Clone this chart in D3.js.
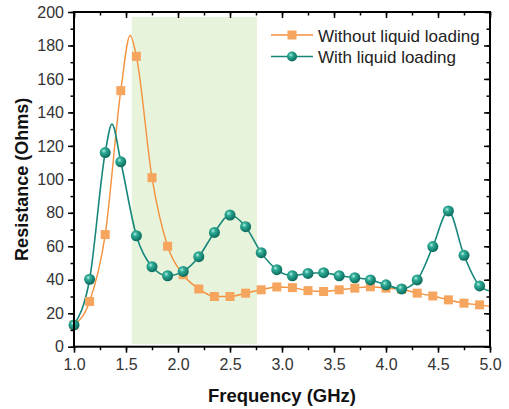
<!DOCTYPE html>
<html>
<head>
<meta charset="utf-8">
<script src="https://cdn.jsdelivr.net/npm/d3@7"></script>
<style>
  html, body { margin: 0; padding: 0; background: #fff; }
  svg { display: block; }
  text { font-family: "Liberation Sans", Arial, sans-serif; }
</style>
</head>
<body>
<svg id="chart" width="509" height="409"></svg>
<script>
// ---- Data ----
const markerFreq = [1.0, 1.15, 1.3, 1.45, 1.6, 1.75, 1.9, 2.05, 2.2, 2.35, 2.5, 2.65, 2.8, 2.95,
  3.1, 3.25, 3.4, 3.55, 3.7, 3.85, 4.0, 4.15, 4.3, 4.45, 4.6, 4.75, 4.9];
const withoutValues = [13, 27, 67, 153, 173.5, 101, 60, 43, 34.5, 30, 30, 32, 34, 35.7,
  35.3, 33.5, 33, 34, 35, 35.8, 35, 34.3, 32, 30.3, 28, 26, 25];
const withValues = [13, 40.3, 116, 110.5, 66.3, 47.8, 42.4, 45, 53.8, 68.3, 78.7, 71.7, 56.2, 46,
  42.4, 43.8, 44.2, 42.4, 41.2, 39.9, 37, 34.5, 39.9, 59.8, 81.1, 54.6, 36.3];
// extra points (peaks and end of range)
const withoutCurveExtraFreq = [1.54, 5.0];
const withoutCurveExtraValues = [186, 24];
const withCurveExtraFreq = [1.365, 5.0];
const withCurveExtraValues = [133, 33.3];
const shadedBand = [1.555, 2.76];
const xTicks = [1.0, 1.5, 2.0, 2.5, 3.0, 3.5, 4.0, 4.5, 5.0];
const yTicks = [0, 20, 40, 60, 80, 100, 120, 140, 160, 180, 200];
const seriesNames = ["Without liquid loading", "With liquid loading"];

// ---- Layout ----
const svg = d3.select("#chart");
const L = 74, R = 490, T = 12, B = 346.7;
const x = d3.scaleLinear().domain([1, 5]).range([L, R]);
const y = d3.scaleLinear().domain([0, 200]).range([B, T]);

const orangeLine = "#f4913e", orangeMark = "#f5a55e";
const tealLine = "#16877a";

const defs = svg.append("defs");
const grad = defs.append("radialGradient").attr("id", "ball")
  .attr("cx", "0.38").attr("cy", "0.35").attr("r", "0.65");
grad.append("stop").attr("offset", "0").attr("stop-color", "#bfeee4");
grad.append("stop").attr("offset", "0.3").attr("stop-color", "#2fae98");
grad.append("stop").attr("offset", "1").attr("stop-color", "#0b6a5c");

// shaded band
svg.append("rect")
  .attr("x", x(shadedBand[0])).attr("y", y(197))
  .attr("width", x(shadedBand[1]) - x(shadedBand[0]))
  .attr("height", y(1.5) - y(197))
  .attr("fill", "#e7f3da");

function curvePoints(fr, vals, exF, exV) {
  const pts = fr.map((f, i) => [f, vals[i]]).concat(exF.map((f, i) => [f, exV[i]]));
  return pts.sort((a, b) => a[0] - b[0]);
}
const line = d3.line().x(d => x(d[0])).y(d => y(d[1])).curve(d3.curveMonotoneX);

const withoutPts = curvePoints(markerFreq, withoutValues, withoutCurveExtraFreq, withoutCurveExtraValues);
const withPts = curvePoints(markerFreq, withValues, withCurveExtraFreq, withCurveExtraValues);

svg.append("path").datum(withoutPts).attr("d", line)
  .attr("fill", "none").attr("stroke", orangeLine).attr("stroke-width", 1.4);
svg.append("path").datum(withPts).attr("d", line)
  .attr("fill", "none").attr("stroke", tealLine).attr("stroke-width", 1.6);

const sq = 9;
svg.append("g").selectAll("rect").data(markerFreq.map((f, i) => [f, withoutValues[i]]))
  .join("rect")
  .attr("x", d => x(d[0]) - sq / 2).attr("y", d => y(d[1]) - sq / 2)
  .attr("width", sq).attr("height", sq).attr("fill", orangeMark);

svg.append("g").selectAll("circle").data(markerFreq.map((f, i) => [f, withValues[i]]))
  .join("circle")
  .attr("cx", d => x(d[0])).attr("cy", d => y(d[1])).attr("r", 5.5)
  .attr("fill", "url(#ball)");

// ---- Axes ----
const xMinor = d3.range(1, 5.001, 0.25);
const yMinor = d3.range(0, 200.001, 10);
const tickFont = 16;

function styleAxis(g) {
  g.select(".domain").remove();
  g.selectAll("line").attr("stroke", "#000").attr("stroke-width", 1.5);
  g.selectAll("text").attr("font-size", tickFont).attr("fill", "#333");
}

// bottom
svg.append("g").attr("transform", `translate(0,${B})`)
  .call(d3.axisBottom(x).tickValues(xMinor).tickSize(3.5).tickFormat(""))
  .call(styleAxis);
svg.append("g").attr("transform", `translate(0,${B})`)
  .call(d3.axisBottom(x).tickValues(xTicks).tickSize(6).tickPadding(6).tickFormat(d3.format(".1f")))
  .call(styleAxis);
// top (inward)
svg.append("g").attr("transform", `translate(0,${T})`)
  .call(d3.axisBottom(x).tickValues(xMinor).tickSize(3.5).tickFormat(""))
  .call(styleAxis);
svg.append("g").attr("transform", `translate(0,${T})`)
  .call(d3.axisBottom(x).tickValues(xTicks).tickSize(6).tickFormat(""))
  .call(styleAxis);
// left
svg.append("g").attr("transform", `translate(${L},0)`)
  .call(d3.axisLeft(y).tickValues(yMinor).tickSize(3.5).tickFormat(""))
  .call(styleAxis);
svg.append("g").attr("transform", `translate(${L},0)`)
  .call(d3.axisLeft(y).tickValues(yTicks).tickSize(6).tickPadding(4).tickFormat(d3.format("d")))
  .call(styleAxis);
// right (inward)
svg.append("g").attr("transform", `translate(${R},0)`)
  .call(d3.axisLeft(y).tickValues(yMinor).tickSize(3.5).tickFormat(""))
  .call(styleAxis);
svg.append("g").attr("transform", `translate(${R},0)`)
  .call(d3.axisLeft(y).tickValues(yTicks).tickSize(6).tickFormat(""))
  .call(styleAxis);

// frame
svg.append("rect").attr("x", L).attr("y", T).attr("width", R - L).attr("height", B - T)
  .attr("fill", "none").attr("stroke", "#000").attr("stroke-width", 2);

// titles
svg.append("text").attr("x", (L + R) / 2).attr("y", 402)
  .attr("text-anchor", "middle").attr("font-size", 18.5).attr("font-weight", "bold")
  .attr("fill", "#111").text("Frequency (GHz)");
svg.append("text").attr("transform", `translate(28,${(T + B) / 2}) rotate(-90)`)
  .attr("text-anchor", "middle").attr("font-size", 18).attr("font-weight", "bold")
  .attr("fill", "#111").text("Resistance (Ohms)");

// legend
const leg = svg.append("g");
const legRows = [
  { name: seriesNames[0], y: 35, color: orangeLine, type: "sq" },
  { name: seriesNames[1], y: 56.5, color: tealLine, type: "ball" }
];
legRows.forEach(r => {
  leg.append("line").attr("x1", 271).attr("x2", 313).attr("y1", r.y).attr("y2", r.y)
    .attr("stroke", r.color).attr("stroke-width", 1.5);
  if (r.type === "sq") {
    leg.append("rect").attr("x", 292 - 4.5).attr("y", r.y - 4.5).attr("width", 9).attr("height", 9)
      .attr("fill", orangeMark);
  } else {
    leg.append("circle").attr("cx", 292).attr("cy", r.y).attr("r", 5).attr("fill", "url(#ball)");
  }
  leg.append("text").attr("x", 318).attr("y", r.y + 6.5).attr("font-size", 17)
    .attr("fill", "#222").text(r.name);
});
</script>
</body>
</html>
